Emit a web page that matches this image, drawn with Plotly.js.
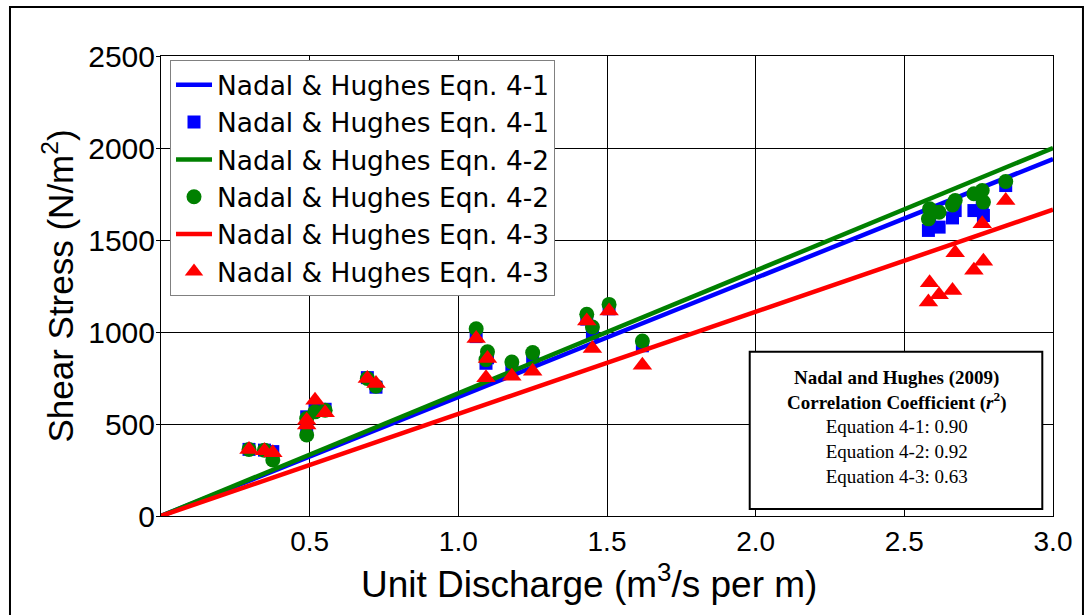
<!DOCTYPE html>
<html>
<head>
<meta charset="utf-8">
<script src="https://cdn.plot.ly/plotly-3.0.1.min.js"></script>
<style>html,body{margin:0;padding:0;background:#fff;}#chart{width:1089px;height:615px;}</style>
</head>
<body>
<div id="chart"></div>
<script>
// Unit discharge (m^3/s per m) for each sample
const unitDischarge = [0.296, 0.348, 0.376, 0.490, 0.490, 0.518, 0.552, 0.694, 0.723,
  1.060, 1.098, 1.093, 1.180, 1.250, 1.432, 1.451, 1.507, 1.619,
  2.581, 2.585, 2.617, 2.662, 2.671, 2.734, 2.766, 2.762, 2.841];
// Shear stress (N/m^2) by equation
const eq41Stress = [362, 358, 350, 539, 470, 590, 580, 752, 700,
  975, 860, 830, 800, 860, 1070, 991, 1126, 925,
  1552, 1597, 1570, 1620, 1660, 1660, 1633, 1680, 1796];
const eq42Stress = [362, 358, 304, 530, 440, 566, 575, 747, 705,
  1018, 892, 850, 837, 888, 1096, 1027, 1150, 951,
  1615, 1670, 1651, 1690, 1715, 1751, 1706, 1769, 1818];
const eq43Stress = [362, 354, 344, 521, 495, 629, 561, 747, 720,
  964, 856, 752, 760, 787, 1060, 910, 1114, 819,
  1163, 1268, 1203, 1226, 1431, 1335, 1385, 1588, 1715];
// Fitted lines through the origin
const lineDischarge = [0, 3.0];
const eq41Line = [0, 1940];
const eq42Line = [0, 2000];
const eq43Line = [0, 1665];
// Correlation coefficients
const eqNames = ['Equation 4-1', 'Equation 4-2', 'Equation 4-3'];
const rSquared = ['0.90', '0.92', '0.63'];
// Axis ticks
const xTickVals = [0.5, 1.0, 1.5, 2.0, 2.5, 3.0];
const xTickText = ['0.5', '1.0', '1.5', '2.0', '2.5', '3.0'];
const yTickVals = [0, 500, 1000, 1500, 2000, 2500];

const seriesName1 = 'Nadal & Hughes Eqn. 4-1';
const seriesName2 = 'Nadal & Hughes Eqn. 4-2';
const seriesName3 = 'Nadal & Hughes Eqn. 4-3';
const BLUE = '#0000FF', GREEN = '#008000', RED = '#FF0000';
const SANS = 'Liberation Sans, Arial, sans-serif';

const traces = [
  {x: lineDischarge, y: eq41Line, mode: 'lines', name: seriesName1, line: {color: BLUE, width: 4.5}},
  {x: unitDischarge, y: eq41Stress, mode: 'markers', name: seriesName1, marker: {symbol: 'square', color: BLUE, size: 13}},
  {x: lineDischarge, y: eq42Line, mode: 'lines', name: seriesName2, line: {color: GREEN, width: 4.5}},
  {x: unitDischarge, y: eq42Stress, mode: 'markers', name: seriesName2, marker: {symbol: 'circle', color: GREEN, size: 15}},
  {x: lineDischarge, y: eq43Line, mode: 'lines', name: seriesName3, line: {color: RED, width: 4.5}},
  {x: unitDischarge, y: eq43Stress, mode: 'markers', name: seriesName3, marker: {symbol: 'triangle-up', color: RED, size: 17}}
];

const boxText = '<b>Nadal and Hughes (2009)</b><br><b>Correlation Coefficient (<i>r</i><sup>2</sup>)</b><br>' +
  eqNames.map((n, i) => n + ': ' + rSquared[i]).join('<br>');

const layout = {
  width: 1089, height: 615,
  margin: {l: 161, r: 36, t: 56, b: 99},
  paper_bgcolor: '#fff', plot_bgcolor: '#fff',
  font: {family: SANS, color: '#000'},
  showlegend: true,
  xaxis: {
    range: [0, 3.0], tickvals: xTickVals, ticktext: xTickText,
    showgrid: true, gridcolor: '#000', gridwidth: 1,
    showline: true, mirror: true, linecolor: '#000', linewidth: 1,
    zeroline: false, ticks: '', automargin: false,
    tickfont: {size: 28, family: SANS}
  },
  yaxis: {
    range: [0, 2500], tickvals: yTickVals,
    showgrid: true, gridcolor: '#000', gridwidth: 1,
    showline: true, mirror: true, linecolor: '#000', linewidth: 1,
    zeroline: false, ticks: 'outside', ticklen: 4, tickcolor: '#000', automargin: false,
    ticklabelstandoff: -5,
    tickfont: {size: 30, family: SANS},
    title: {text: 'Shear Stress (N/m<sup>2</sup>)', font: {size: 35}, standoff: 4}
  },
  legend: {
    x: 0.0101, y: 0.991, xanchor: 'left', yanchor: 'top',
    bgcolor: '#fff', bordercolor: '#808080', borderwidth: 1,
    font: {size: 26.4, family: 'DejaVu Sans, Liberation Sans, sans-serif'},
    itemwidth: 36,
    traceorder: 'normal', tracegroupgap: 0
  },
  shapes: [
    {type: 'rect', xref: 'paper', yref: 'paper', x0: 0.660, x1: 0.988, y0: 0.015, y1: 0.357,
      line: {color: '#000', width: 2}, fillcolor: '#fff', layer: 'above'},
    {type: 'rect', xref: 'paper', yref: 'paper', x0: -0.1693, x1: 1.0336, y0: -0.4, y1: 1.1065,
      line: {color: '#000', width: 2}, fillcolor: 'rgba(0,0,0,0)', layer: 'below'}
  ],
  annotations: [
    {xref: 'paper', yref: 'paper', x: 0.824, y: 0.193, xanchor: 'center', yanchor: 'middle',
      showarrow: false, align: 'center', text: boxText,
      font: {family: 'Liberation Serif, Times New Roman, serif', size: 19, color: '#000'}},
    {xref: 'paper', yref: 'paper', x: 0.48, y: -0.143, xanchor: 'center', yanchor: 'middle',
      showarrow: false, text: 'Unit Discharge (m<sup>3</sup>/s per m)',
      font: {family: SANS, size: 37, color: '#000'}}
  ]
};

Plotly.newPlot('chart', traces, layout, {displayModeBar: false, staticPlot: true});
</script>
</body>
</html>
